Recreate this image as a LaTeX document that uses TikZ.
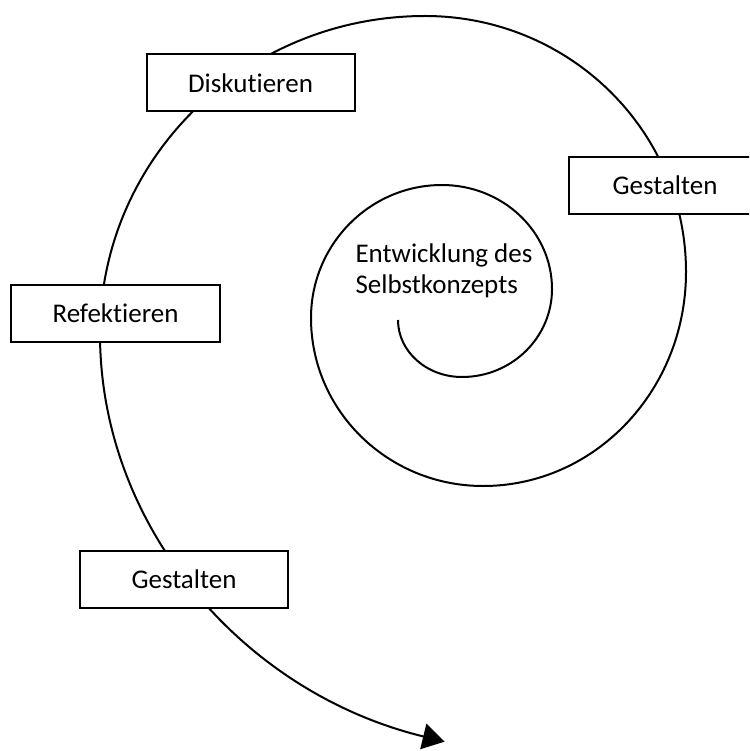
\documentclass[tikz,border=0pt]{standalone}
\usepackage{fontspec}
\setmainfont{Carlito}[Ligatures=NoCommon]
\usetikzlibrary{arrows.meta}

\begin{document}
\begin{tikzpicture}[x=1pt,y=1pt,font=\fontsize{27}{31}\selectfont,
        stage/.style={draw,line width=2pt,fill=white,minimum width=208pt,minimum height=57pt,inner sep=0pt}]
    \useasboundingbox (0,0) rectangle (749,-751);
    \clip (0,0) rectangle (749,-751);
    % spiral, from the centre outwards
    \coordinate (start) at (398,-320);
    \draw[line width=2pt,-{Triangle[length=22pt,width=26pt]}]
        (start) arc[start angle=180,end angle=270,x radius=64,y radius=57]
        arc[start angle=270,end angle=360,x radius=90,y radius=88]
        arc[start angle=0,end angle=90,x radius=110,y radius=104]
        arc[start angle=90,end angle=180,x radius=131,y radius=133]
        arc[start angle=180,end angle=270,x radius=172,y radius=168]
        arc[start angle=270,end angle=360,x radius=203,y radius=214]
        arc[start angle=0,end angle=90,x radius=261,y radius=256]
        arc[start angle=90,end angle=180,x radius=325,y radius=318]
        arc[start angle=180,end angle=255,x radius=465,y radius=422] coordinate (end);
    \node[align=left,inner sep=0pt] (selbst) at (444,-271) {Entwicklung des\\Selbstkonzepts};
    \node[stage] (diskutieren) at (250.5,-83) {Diskutieren};
    \node[stage,minimum width=193pt] (gestalten1) at (665,-185.5) {Gestalten};
    \node[stage,minimum width=209pt] (refektieren) at (115.5,-313.5) {Refektieren};
    \node[stage] (gestalten2) at (184,-579.5) {Gestalten};
\end{tikzpicture}
\end{document}
